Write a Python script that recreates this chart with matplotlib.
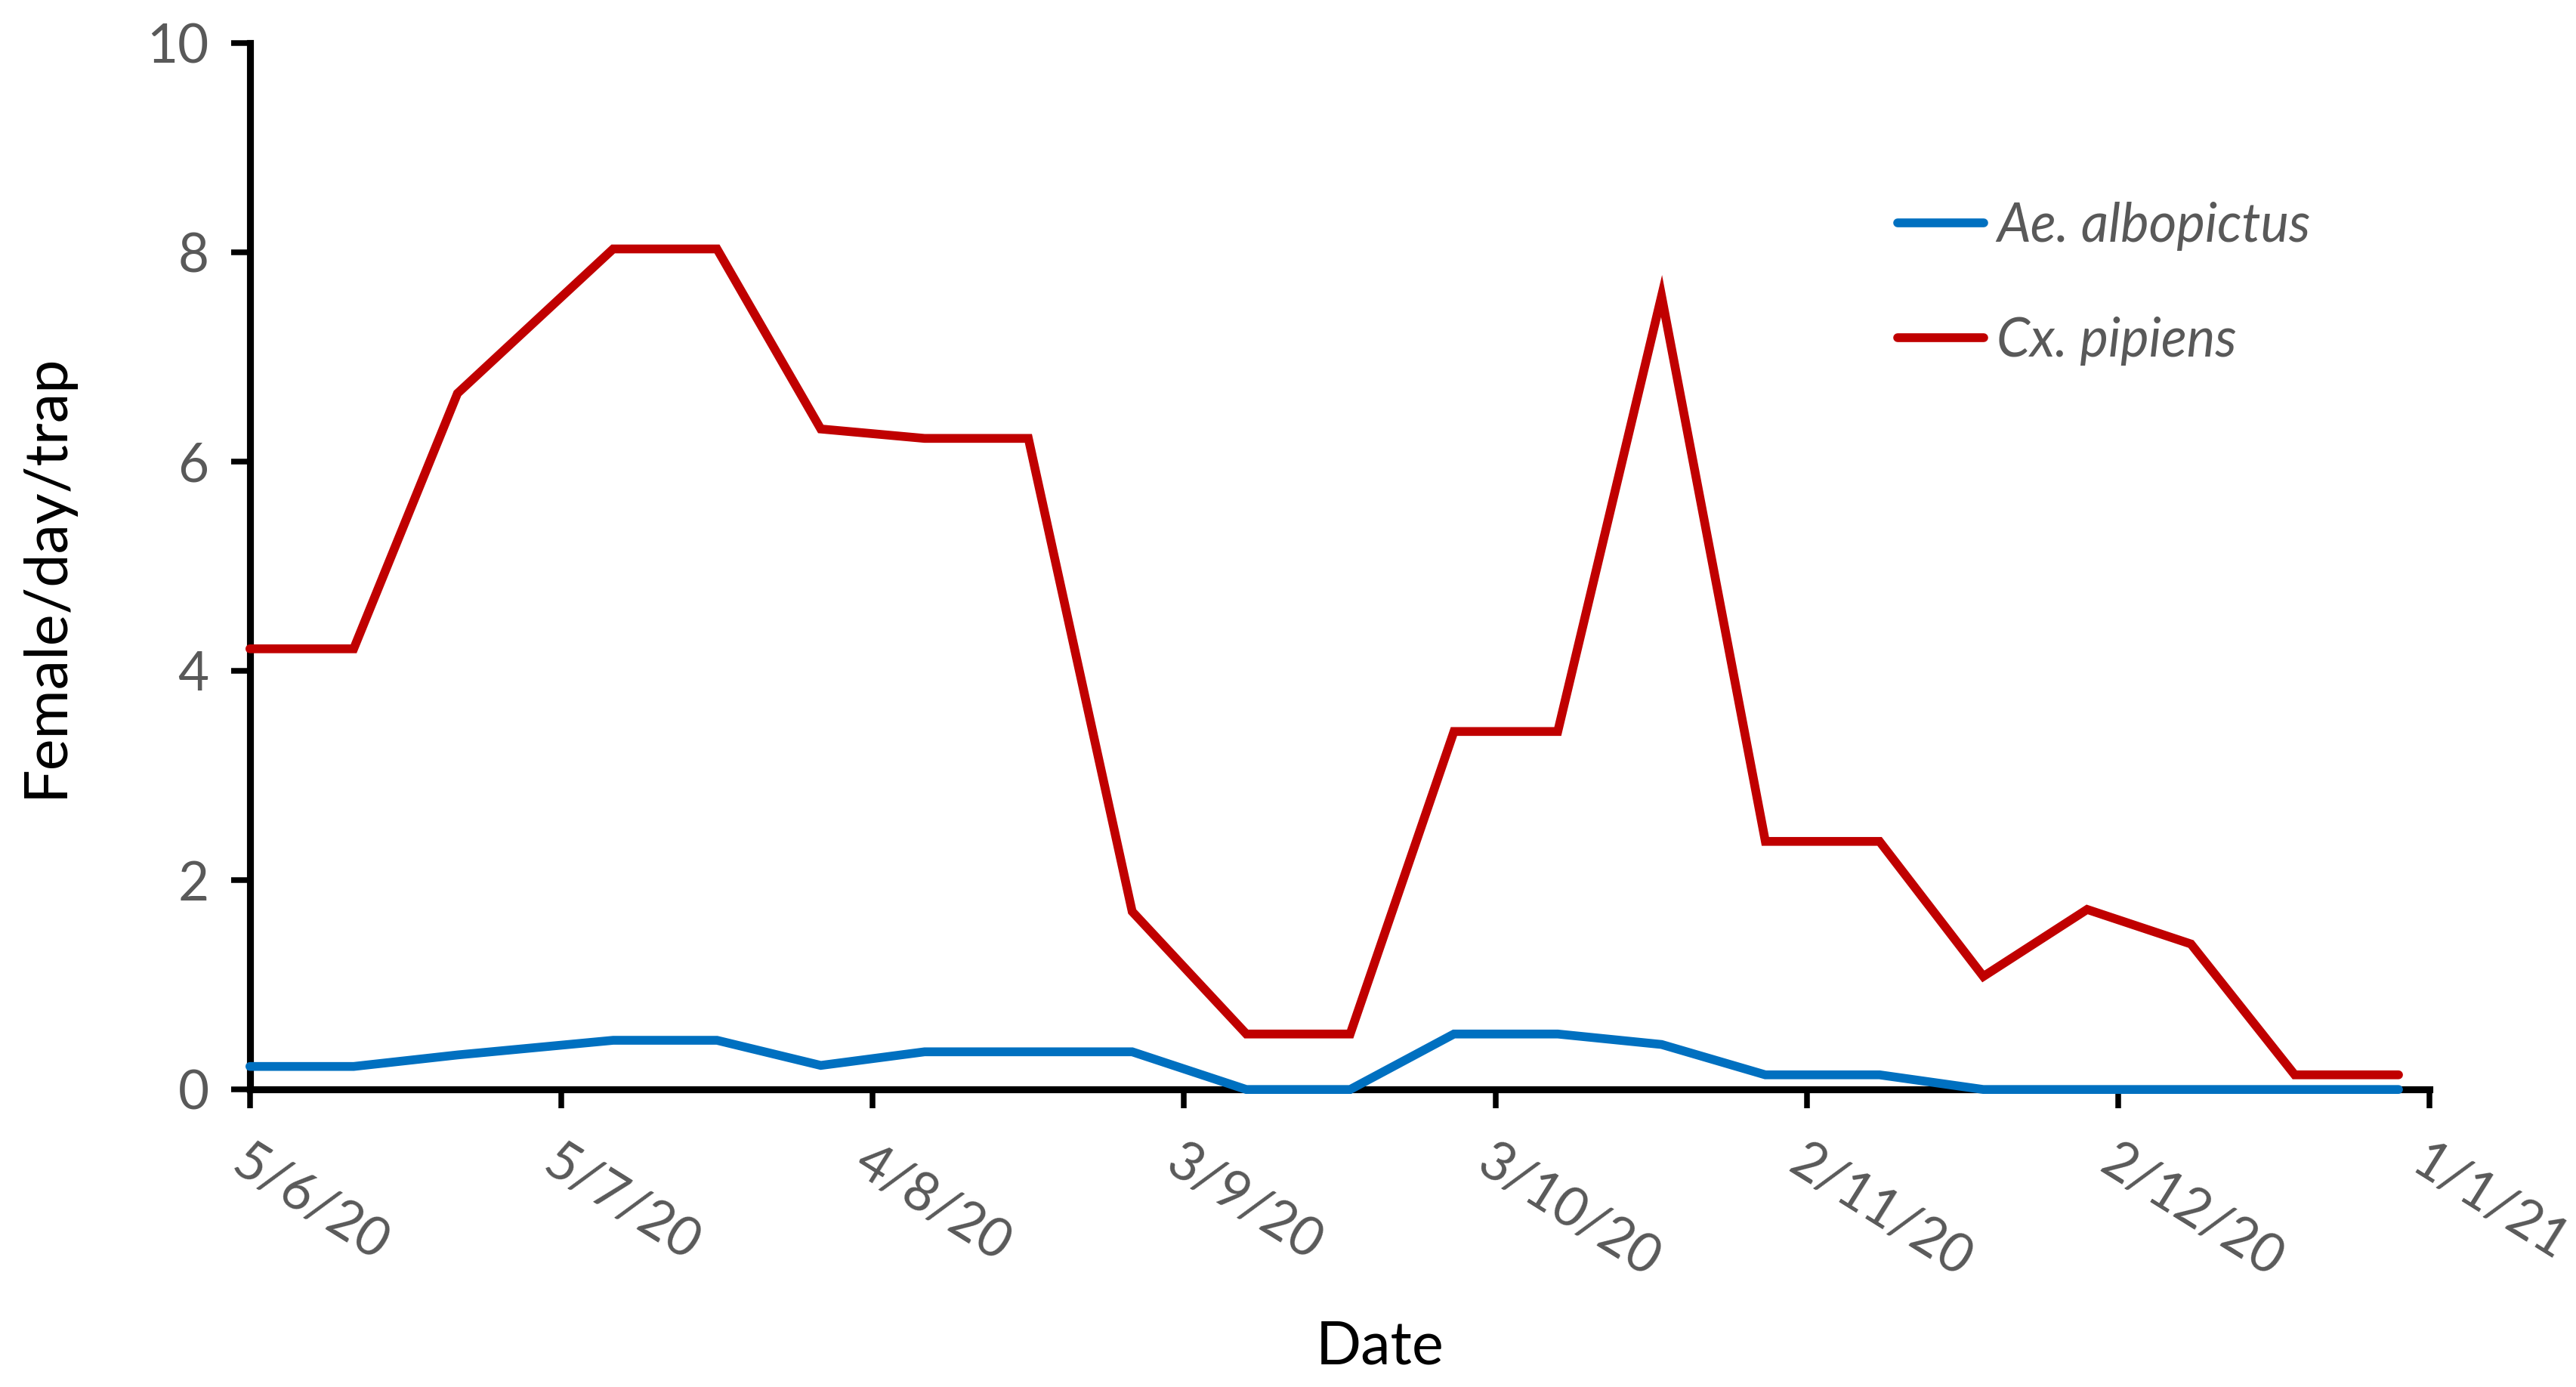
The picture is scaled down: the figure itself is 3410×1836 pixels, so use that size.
"""
Mosquito trap counts, Ae. albopictus vs Cx. pipiens
"""

import datetime as dt

import matplotlib
matplotlib.use("Agg")
import matplotlib.pyplot as plt
import matplotlib.dates as mdates
from matplotlib.ticker import FuncFormatter, MultipleLocator

# sampling dates (day/month/year on the axis)
dates = [
    "2020-06-05", "2020-06-15", "2020-06-25", "2020-07-10", "2020-07-20",
    "2020-07-30", "2020-08-09", "2020-08-19", "2020-08-29", "2020-09-09",
    "2020-09-19", "2020-09-29", "2020-10-09", "2020-10-19", "2020-10-29",
    "2020-11-09", "2020-11-19", "2020-11-29", "2020-12-09", "2020-12-19",
    "2020-12-29",
]
albopictus = [0.22, 0.22, 0.33, 0.47, 0.47, 0.23, 0.36, 0.36, 0.36, 0.0,
              0.0, 0.53, 0.53, 0.43, 0.14, 0.14, 0.0, 0.0, 0.0, 0.0, 0.0]
pipiens = [4.21, 4.21, 6.65, 8.03, 8.03, 6.31, 6.22, 6.22, 1.70, 0.53,
           0.53, 3.42, 3.42, 7.58, 2.37, 2.37, 1.08, 1.72, 1.39, 0.14, 0.14]

series_labels = ["Ae. albopictus", "Cx. pipiens"]
x_start, x_end = "2020-06-05", "2021-01-01"

FONT = "Lato"
GREY = "#595959"
BLUE = "#0070C0"
RED = "#C00000"

plt.rcParams["font.family"] = [FONT, "DejaVu Sans"]

x = [dt.datetime.strptime(d, "%Y-%m-%d") for d in dates]

fig = plt.figure(figsize=(3410 / 300, 1836 / 300), dpi=300)
ax = fig.add_axes([0.097, 0.2145, 0.8462, 0.7547])

ax.plot(x, albopictus, color=BLUE, lw=2.8, solid_capstyle="round",
        solid_joinstyle="miter", label=series_labels[0], clip_on=False, zorder=3)
ax.plot(x, pipiens, color=RED, lw=2.8, solid_capstyle="round",
        solid_joinstyle="miter", label=series_labels[1], clip_on=False, zorder=3)

# axes limits and ticks (30 day major unit, like the source sheet)
t0 = dt.datetime.strptime(x_start, "%Y-%m-%d")
t1 = dt.datetime.strptime(x_end, "%Y-%m-%d")
ax.set_xlim(t0, t1)
ax.set_ylim(0, 10)
ticks = [t0 + dt.timedelta(days=30 * i) for i in range(8)]
ax.set_xticks(ticks)
ax.xaxis.set_major_formatter(FuncFormatter(
    lambda v, pos: (lambda d: f"{d.day}/{d.month}/{d:%y}")(mdates.num2date(v))))
ax.yaxis.set_major_locator(MultipleLocator(2))

for side in ["top", "right"]:
    ax.spines[side].set_visible(False)
for side in ["left", "bottom"]:
    ax.spines[side].set_linewidth(2.2)
    ax.spines[side].set_color("black")

ax.tick_params(axis="y", direction="out", length=6, width=1.8, pad=7,
               labelsize=17, labelcolor=GREY)
ax.tick_params(axis="x", direction="out", length=6, width=1.8, pad=9,
               labelsize=17, labelcolor=GREY)
for lbl in ax.get_xticklabels():
    lbl.set_rotation(-32)
    lbl.set_ha("left")
    lbl.set_va("top")
    lbl.set_rotation_mode("anchor")

fig.text(0.0179, 0.585, "Female/day/trap", fontsize=19, rotation=90,
         ha="center", va="center")
fig.text(0.5357, 0.0284, "Date", fontsize=19, ha="center", va="center")

leg = ax.legend(loc="upper left", bbox_to_anchor=(0.756, 0.848), frameon=False,
                fontsize=17, handlelength=1.6, handletextpad=0.25,
                labelspacing=1.23, borderpad=0, borderaxespad=0)
for txt in leg.get_texts():
    txt.set_color(GREY)
    txt.set_fontstyle("italic")

fig.savefig("out.png", dpi=300)
